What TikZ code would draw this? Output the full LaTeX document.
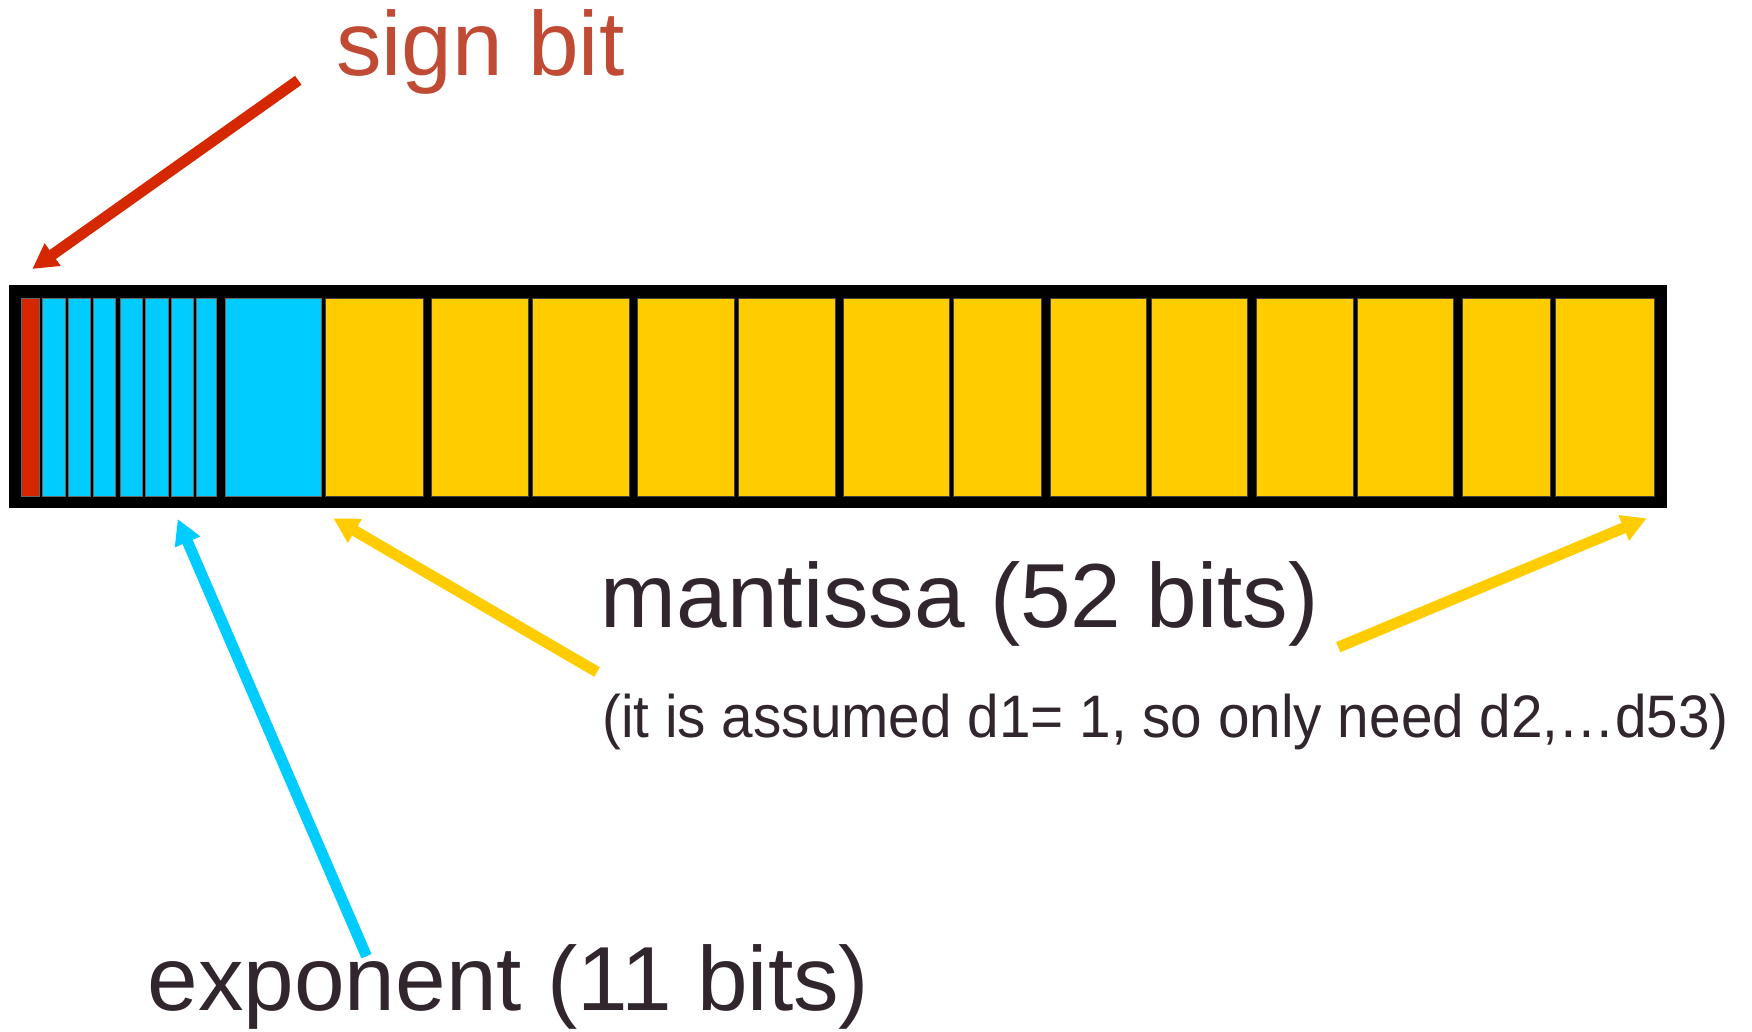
\documentclass[tikz,border=0pt]{standalone}
\usepackage{graphicx}
\usepackage{fontspec}
\setmainfont{Liberation Sans}
\usetikzlibrary{arrows.meta}
\definecolor{signred}{RGB}{214,40,0}
\definecolor{signtext}{RGB}{192,74,52}
\definecolor{expcyan}{RGB}{0,204,255}
\definecolor{mantyellow}{RGB}{255,204,0}
\definecolor{txt}{RGB}{50,38,46}
\begin{document}
\begin{tikzpicture}[x=1pt,y=-1pt,
  ptr/.style={line width=11pt, -{Triangle[length=25pt,width=26pt]}},
  bigtext/.style={font=\fontsize{91}{100}\selectfont, text=txt, inner sep=0pt, anchor=base west},
  celly/.style={fill=mantyellow, draw=black!75, line width=0.7pt},
  cellc/.style={fill=expcyan, draw=black!60, line width=0.7pt},
]
\useasboundingbox (0,0) rectangle (1752,1032);
% bar
\node[fill=black, inner sep=0pt, minimum width=1658pt, minimum height=223pt, anchor=north west] (bar) at (9,285) {};
% sign cell
\draw[fill=signred, draw=black!60, line width=0.7pt] (21.7,298) rectangle (39.3,496);
% exponent cells
\foreach \a/\b in {42.7/65.3, 68/90.7, 93.7/115.7, 120/142, 145/168, 171/193.7, 196.7/216.7, 225/321.7}
  \draw[cellc] (\a,298) rectangle (\b,496);
% mantissa cells
\foreach \a/\b in {325.7/423.3, 431.7/528.3, 532.3/629.3, 637.7/734.7, 738.7/835.4, 843.6/949.3, 953.6/1041.8, 1050/1146.8, 1151/1247.5, 1256/1353.3, 1357.7/1453.7, 1462.3/1550.3, 1555/1654}
  \draw[celly] (\a,298) rectangle (\b,496);
% texts
\node[bigtext, text=signtext] (sign) at (336,76) {sign bit};
\node[bigtext] (mant) at (600.5,627) {mantissa (52 bits)};
\node[bigtext] (expo) at (147.5,1010) {exponent (11 bits)};
\node[inner sep=0pt, anchor=base west, text=txt, font=\fontsize{60}{66}\selectfont] (note) at (602,737) {\scalebox{0.945}[1]{(it is assumed d1= 1, so only need d2,…d53)}};
% arrow ends
\coordinate (redtail) at (298.3,80.3);
\coordinate (redtip) at (32.3,269);
\coordinate (cyantail) at (366.5,956.2);
\coordinate (cyantip) at (177.7,519);
\coordinate (ylefttail) at (597,672);
\coordinate (ylefttip) at (333.3,518.3);
\coordinate (yrighttail) at (1338.2,647.2);
\coordinate (yrighttip) at (1646.7,518.3);
\draw[ptr, signred] (redtail) -- (redtip);
\draw[ptr, expcyan] (cyantail) -- (cyantip);
\draw[ptr, mantyellow] (ylefttail) -- (ylefttip);
\draw[ptr, mantyellow] (yrighttail) -- (yrighttip);
\end{tikzpicture}
\end{document}
